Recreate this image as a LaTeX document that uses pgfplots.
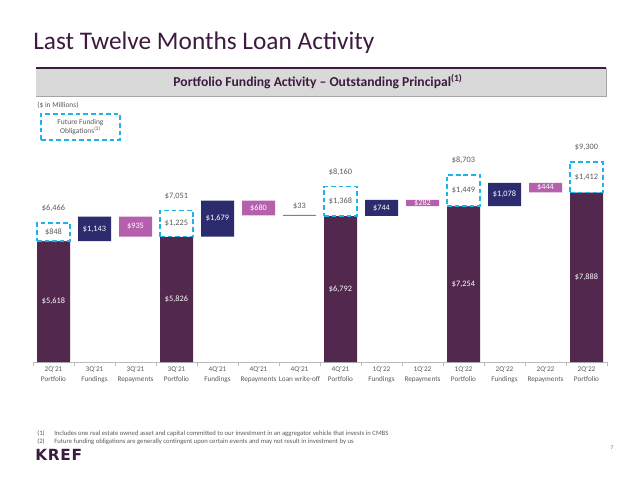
\documentclass[border=0pt]{standalone}
\usepackage{pgfplots}
\pgfplotsset{compat=1.18}
\usepackage{fontspec}
\setmainfont{Carlito}
\newfontfamily\logofont[LetterSpace=5]{DejaVu Sans}
\definecolor{port}{HTML}{52284F}
\definecolor{fund}{HTML}{2B2B6E}
\definecolor{rep}{HTML}{B560AC}
\definecolor{ffo}{HTML}{1EB4EA}
\definecolor{titlec}{HTML}{3D1B40}
\definecolor{txtgray}{HTML}{595959}
\definecolor{hdrgray}{HTML}{D9D9D9}

\pgfplotsset{
  base/.style={scale only axis, width=430.5pt, height=161.25pt,
    xmin=-0.5, xmax=13.5, ymin=0, ymax=10000,
    at={(24.75pt,85.5pt)}, anchor=south west, bar width=24.75pt, clip=false},
  lbl/.style={draw=none, nodes near coords, point meta=explicit symbolic,
    nodes near coords style={anchor=center, font=\fontsize{6.2}{7}\selectfont, text=#1}},
}

\begin{document}
\begin{tikzpicture}[x=0.75pt, y=0.75pt]
\path[use as bounding box] (0,0) rectangle (640,476);

% title
\node[anchor=base west, inner sep=0, text=titlec, font=\fontsize{19}{20}\selectfont] at (33,426) {Last Twelve Months Loan Activity};

% header bar
\fill[hdrgray] (36,380) rectangle (606,408);
\draw[gray!70, line width=0.6] (606,408) -- (606,380) -- (36,380);
\draw[titlec, line width=1.6] (36,408) -- (606,408);
\node[text=titlec, font=\fontsize{10.2}{12}\selectfont\bfseries] at (318,394) {Portfolio Funding Activity – Outstanding Principal\textsuperscript{(1)}};

\node[anchor=west, inner sep=0, text=txtgray, font=\fontsize{5.6}{7}\selectfont] at (37,371) {(\$ in Millions)};
\draw[ffo, line width=1.1pt, dash pattern=on 3.5pt off 2.2pt] (41,336) rectangle (120,362);
\node[align=center, text=txtgray, font=\fontsize{5.6}{7.2}\selectfont] at (80.5,349) {Future Funding\\Obligations\textsuperscript{(2)}};

% main bars
\begin{axis}[base, ybar stacked,
  axis x line*=bottom, axis y line=none,
  x axis line style={draw=gray!55, line width=0.6pt, -},
  xtick={0,...,13},
  xticklabels={{2Q’21\\Portfolio},{3Q’21\\Fundings},{3Q’21\\Repayments},{3Q’21\\Portfolio},
    {4Q’21\\Fundings},{4Q’21\\Repayments},{4Q’21\\Loan write-off},{4Q’21\\Portfolio},
    {1Q’22\\Fundings},{1Q’22\\Repayments},{1Q’22\\Portfolio},{2Q’22\\Fundings},
    {2Q’22\\Repayments},{2Q’22\\Portfolio}},
  xticklabel style={align=center, text=txtgray, font=\fontsize{5.4}{7.5}\selectfont},
  minor xtick={-0.5,0.5,...,13.5},
  major tick length=0pt, minor tick length=3pt, tick align=outside,
  every minor tick/.append style={draw=gray!55, line width=0.6pt},
  ytick=\empty]
\addplot[fill=none, draw=none] coordinates {(0,0) (1,5618) (2,5826) (3,0) (4,5826) (5,6825) (6,6792) (7,0) (8,6792) (9,7254) (10,0) (11,7254) (12,7888) (13,0)};
\addplot[fill=port, draw=none] coordinates {(0,5618) (1,0) (2,0) (3,5826) (4,0) (5,0) (6,0) (7,6792) (8,0) (9,0) (10,7254) (11,0) (12,0) (13,7888)};
\addplot[fill=fund, draw=none] coordinates {(0,0) (1,1143) (2,0) (3,0) (4,1679) (5,0) (6,0) (7,0) (8,744) (9,0) (10,0) (11,1078) (12,0) (13,0)};
\addplot[fill=rep, draw=none] coordinates {(0,0) (1,0) (2,935) (3,0) (4,0) (5,680) (6,50) (7,0) (8,0) (9,282) (10,0) (11,0) (12,444) (13,0)};
\end{axis}

% future funding obligations
\begin{axis}[base, ybar stacked, hide axis]
\addplot[fill=none, draw=none] coordinates {(0,5618) (3,5826) (7,6792) (10,7254) (13,7888)};
\addplot[fill=white, draw=ffo, line width=1.1pt, dash pattern=on 3.5pt off 2.2pt] coordinates {(0,848) (3,1225) (7,1368) (10,1449) (13,1412)};
\end{axis}

% value labels
\begin{axis}[base, hide axis]
\addplot[lbl=white] coordinates {
  (0,2809) [\$5,618] (3,2913) [\$5,826] (7,3396) [\$6,792] (10,3627) [\$7,254] (13,3944) [\$7,888]
  (1,6190) [\$1,143] (4,6666) [\$1,679] (8,7164) [\$744] (11,7793) [\$1,078]
  (2,6294) [\$935] (5,7165) [\$680] (9,7395) [\$282] (12,8110) [\$444]};
\addplot[lbl=txtgray] coordinates {
  (0,6042) [\$848] (3,6438) [\$1,225] (7,7476) [\$1,368] (10,7978) [\$1,449] (13,8594) [\$1,412]
  (0,7130) [\$6,466] (3,7715) [\$7,051] (7,8825) [\$8,160] (10,9370) [\$8,703] (13,9965) [\$9,300]
  (6,7240) [\$33]};
\end{axis}

% footnotes
\node[anchor=west, inner sep=0, text=txtgray, font=\fontsize{5}{5.5}\selectfont] at (37,42) {(1)};
\node[anchor=west, inner sep=0, text=txtgray, font=\fontsize{5}{5.5}\selectfont] at (54,42) {Includes one real estate owned asset and capital committed to our investment in an aggregator vehicle that invests in CMBS};
\node[anchor=west, inner sep=0, text=txtgray, font=\fontsize{5}{5.5}\selectfont] at (37,34) {(2)};
\node[anchor=west, inner sep=0, text=txtgray, font=\fontsize{5}{5.5}\selectfont] at (54,34) {Future funding obligations are generally contingent upon certain events and may not result in investment by us};
\node[anchor=west, inner sep=0, text=titlec, font=\logofont\bfseries\fontsize{11.5}{12}\selectfont] at (35,21) {KREF};
\node[text=txtgray, font=\fontsize{4}{5}\selectfont] at (612,28) {7};
\end{tikzpicture}
\end{document}
